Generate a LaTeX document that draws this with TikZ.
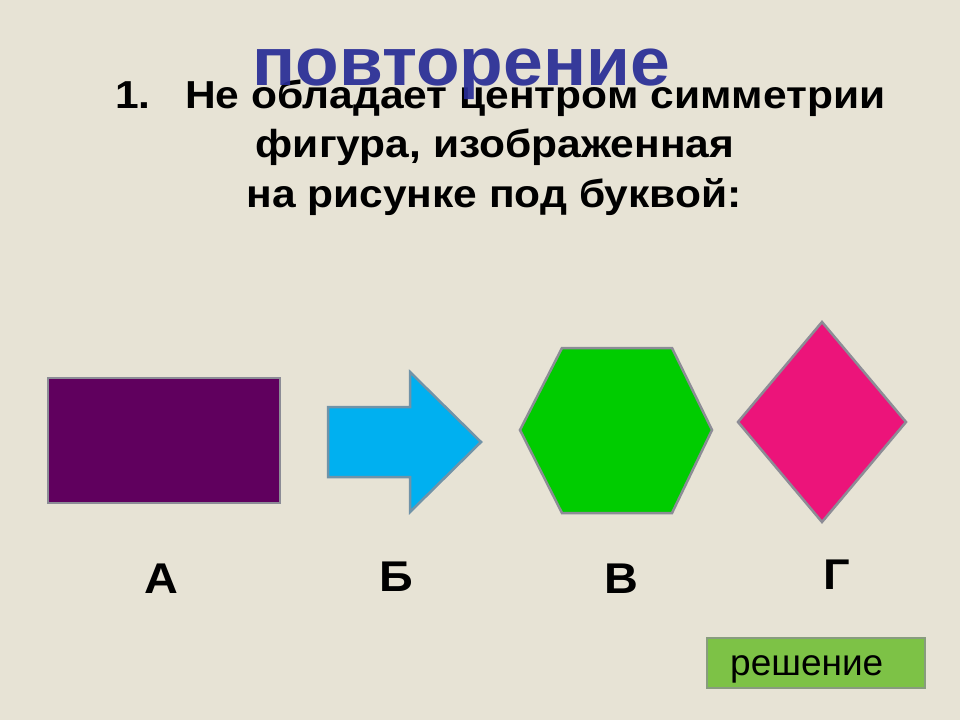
\documentclass[tikz,border=0pt]{standalone}
\usepackage{fontspec}
\setmainfont{Liberation Sans}
\newfontfamily\widefont[FakeStretch=1.09]{Liberation Sans}
\newfontfamily\titlefont[FakeStretch=1.05]{Liberation Sans}
\usepackage{tikz}
\usetikzlibrary{positioning}
\definecolor{paper}{RGB}{231,227,213}
\definecolor{titleblue}{RGB}{40,44,150}
\definecolor{rectfill}{RGB}{96,0,94}
\definecolor{arrowfill}{RGB}{0,176,240}
\definecolor{hexfill}{RGB}{0,204,0}
\definecolor{rhombfill}{RGB}{236,20,122}
\definecolor{btnfill}{RGB}{125,194,70}
\definecolor{edge}{RGB}{140,140,150}
\tikzset{
    %Define style for the question text
    question/.style={
           anchor=base,
           inner sep=0pt,
           font=\fontsize{39}{47}\selectfont\widefont\bfseries},
    %Define style for the letters under the figures
    letter/.style={
           anchor=base,
           inner sep=0pt,
           font=\fontsize{43}{50}\selectfont\widefont\bfseries},
    % Define style for the figures
    figure/.style={
           draw=edge,
           line width=2.5pt,
           line join=miter}
}
\begin{document}
\begin{tikzpicture}[x=1pt,y=-1pt]
\useasboundingbox (0,0) rectangle (960,720);
\fill[paper] (0,0) rectangle (960,720);
% question
\node[question, anchor=base west](num) at (115,108){1.};
\node[question, anchor=base west](q1) at (185,108){Не обладает центром симметрии};
\node[question](q2) at (495,157){фигура, изображенная};
\node[question](q3) at (494,207){на рисунке под буквой:};
\node[anchor=base, inner sep=0pt, text=titleblue, opacity=.92,
      font=\fontsize{68}{70}\selectfont\titlefont\bfseries](title) at (461,85){повторение};
% figures
\filldraw[figure, fill=rectfill] (48,378) rectangle (280,503);
\filldraw[figure, draw=edge!80!arrowfill, fill=arrowfill]
    (328,407) -- (410,407) -- (410,372) -- (481,442) -- (410,512) -- (410,477) -- (328,477) -- cycle;
\filldraw[figure, fill=hexfill]
    (562,348) -- (672,348) -- (712,430) -- (672,513) -- (562,513) -- (520,430) -- cycle;
\filldraw[figure, fill=rhombfill]
    (822,322) -- (906,422) -- (822,522) -- (738,422) -- cycle;
% letters
\node[letter](A) at (161,593){А};
\node[letter](B) at (396,591){Б};
\node[letter](V) at (621,593){В};
\node[letter](G) at (837,589){Г};
% button
\filldraw[draw=edge!70!btnfill, line width=2.5pt, fill=btnfill] (707,638) rectangle (925,688);
\node[anchor=base west, inner sep=0pt, font=\fontsize{37}{40}\selectfont](sol) at (730,675){решение};
\end{tikzpicture}
\end{document}
